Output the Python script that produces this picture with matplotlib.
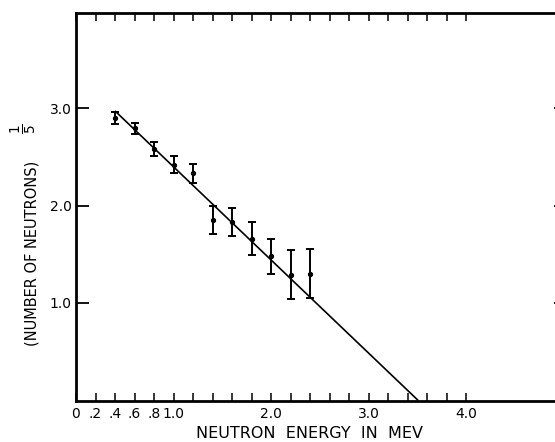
import numpy as np
import matplotlib
matplotlib.use("Agg")
import matplotlib.pyplot as plt

energy = [0.4, 0.6, 0.8, 1.0, 1.2, 1.4, 1.6, 1.8, 2.0, 2.2, 2.4]
n_root = [2.90, 2.79, 2.58, 2.42, 2.33, 1.85, 1.83, 1.66, 1.48, 1.29, 1.30]
n_err = [0.06, 0.06, 0.07, 0.085, 0.10, 0.14, 0.145, 0.17, 0.18, 0.25, 0.25]

# straight line drawn through the data
fit_x = [0.4, 3.51]
fit_y = [2.97, 0.0]

x_ticks = [round(0.2 * i, 1) for i in range(21)]
x_tick_labels = {0.0: "0", 0.2: ".2", 0.4: ".4", 0.6: ".6", 0.8: ".8",
                 1.0: "1.0", 2.0: "2.0", 3.0: "3.0", 4.0: "4.0"}
y_ticks = [1.0, 2.0, 3.0]
y_tick_labels = ["1.0", "2.0", "3.0"]

plt.rcParams['font.family'] = ['DejaVu Sans']

# the frame runs past the right edge of the picture, as in the original scan
right_px = 566
fig = plt.figure(figsize=(5.55, 4.42), dpi=100)
ax = fig.add_axes([76 / 555, 1 - 400.5 / 442, (right_px - 76) / 555, (400.5 - 13) / 442])

ax.plot(fit_x, fit_y, color='black', lw=1.2, solid_capstyle='butt')
ax.errorbar(energy, n_root, yerr=n_err, fmt='o', color='black', ms=2.8,
            elinewidth=1.4, capsize=3, capthick=1.4)

ax.set_xlim(0, (right_px - 76) / 97.5)
ax.set_ylim(0, (400.5 - 13) / 97.5)

ax.set_xticks(x_ticks)
ax.set_xticklabels([x_tick_labels.get(t, "") for t in x_ticks])
ax.set_yticks(y_ticks)
ax.set_yticklabels(y_tick_labels)

for s in ax.spines.values():
    s.set_linewidth(2)
ax.spines['right'].set_visible(False)

ax.tick_params(axis='x', direction='in', top=True, bottom=True, length=6,
               width=1.1, labelsize=10, pad=5)
ax.tick_params(axis='y', direction='in', left=True, right=True, length=9,
               width=1.3, labelsize=10, pad=3)

fig.text(310 / 555, 1 - 433 / 442, "NEUTRON  ENERGY  IN  MEV",
         ha='center', va='center', fontsize=11.5)
# y label, with the 1/5 exponent drawn as its own larger piece
fig.text(32 / 555, 1 - 253 / 442, "(NUMBER OF NEUTRONS)",
         ha='center', va='center', rotation=90, fontsize=10.5)
fig.text(24 / 555, 1 - 129 / 442, r"$\frac{1}{5}$",
         ha='center', va='center', rotation=90, fontsize=14)

fig.savefig("out.png", dpi=100)
